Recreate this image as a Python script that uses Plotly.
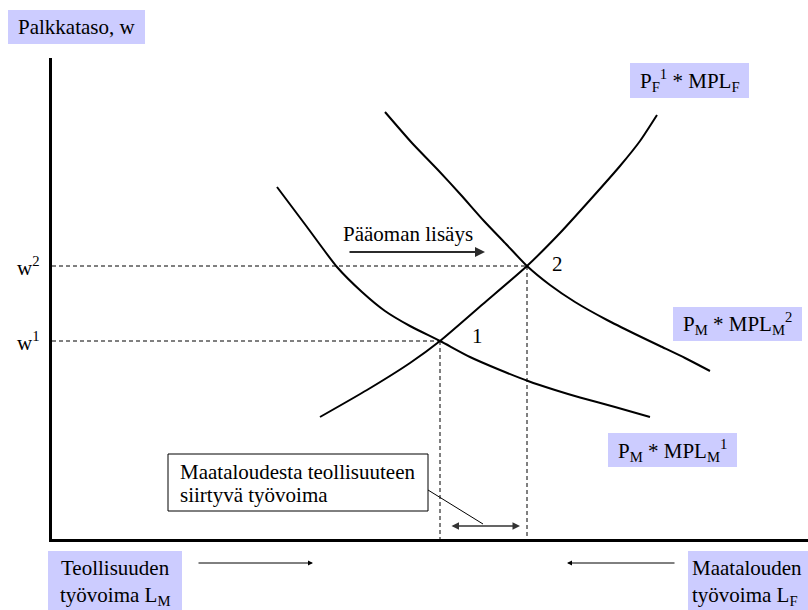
import plotly.graph_objects as go

# ---- data (labour on x, wage on y; arbitrary units) ----
mpl_m1_L = [225, 255, 285, 310, 333, 358, 388, 418, 448, 476, 503, 528, 563, 598]
mpl_m1_w = [352, 312, 272, 247, 228, 213, 198, 182, 169, 158, 149, 141.5, 132, 122]

mpl_f_L = [268, 315, 358, 388, 431, 475, 508, 538, 568, 588, 605]
mpl_f_w = [122, 149, 176, 198, 235, 273, 306, 339, 373, 398, 424]

mpl_m2_L = [333, 360, 386, 409, 432, 454, 475, 498, 523, 555, 583, 608, 633, 658]
mpl_m2_w = [427, 396, 369, 344, 318, 295, 273, 254, 237, 219, 205, 193, 181, 168]

eq_L = [388, 475]      # equilibrium 1, 2
eq_w = [198, 273]
eq_names = ["1", "2"]
w_ticks = ["w<sup>1</sup>", "w<sup>2</sup>"]

FONT = "Liberation Serif, Times New Roman, Tinos, DejaVu Serif, serif"
FS = 21

fig = go.Figure()

# dashed guide lines
for L, w in zip(eq_L, eq_w):
    fig.add_trace(go.Scatter(x=[0, L], y=[w, w], mode="lines",
                             line=dict(color="black", width=1, dash="4px,3px"),
                             hoverinfo="skip"))
    fig.add_trace(go.Scatter(x=[L, L], y=[w, 0], mode="lines",
                             line=dict(color="black", width=1, dash="4px,3px"),
                             hoverinfo="skip"))

for xs, ys in [(mpl_m1_L, mpl_m1_w), (mpl_f_L, mpl_f_w), (mpl_m2_L, mpl_m2_w)]:
    fig.add_trace(go.Scatter(x=xs, y=ys, mode="lines",
                             line=dict(color="black", width=2, shape="spline", smoothing=0.6),
                             hoverinfo="skip"))

# helpers for decoration positions (pixel -> paper)
def PX(px):
    return (px - 52) / 756.0

def PY(py):
    return (539 - py) / 481.0

def label(text, px, py, xanchor="center", size=FS):
    fig.add_annotation(text=text, x=PX(px), y=PY(py), xref="paper", yref="paper",
                       showarrow=False, xanchor=xanchor, yanchor="middle",
                       font=dict(family=FONT, size=size, color="black"))

def box(x0, y0, x1, y1, fill="#CCCCFF", line=0):
    fig.add_shape(type="rect", xref="paper", yref="paper",
                  x0=PX(x0), x1=PX(x1), y0=PY(y1), y1=PY(y0),
                  fillcolor=fill, line=dict(width=line, color="black"), layer="below")

def arrow(tx, ty, hx, hy, width=1.5, color="#333333", side="end", size=1.0):
    fig.add_annotation(x=PX(hx), y=PY(hy), xref="paper", yref="paper",
                       ax=tx - hx, ay=ty - hy, axref="pixel", ayref="pixel",
                       text="", showarrow=True, arrowhead=2, arrowsize=size,
                       arrowwidth=width, arrowcolor=color, arrowside=side)

# label boxes
box(8, 10, 145, 44)
label("Palkkataso, w", 76, 27)

box(630, 63, 749, 98)
label("P<sub>F</sub><sup>1</sup> * MPL<sub>F</sub>", 690, 80)

box(673, 307, 802, 341)
label("P<sub>M</sub> * MPL<sub>M</sub><sup>2</sup>", 737, 324)

box(608, 433, 737, 467)
label("P<sub>M</sub> * MPL<sub>M</sub><sup>1</sup>", 672, 450)

box(48, 551, 182, 615)
label("Teollisuuden", 115, 568)
label("työvoima L<sub>M</sub>", 115, 596)

box(688, 551, 815, 615)
label("Maatalouden", 690, 568, xanchor="left")
label("työvoima L<sub>F</sub>", 690, 596, xanchor="left")

# w tick labels
for t, w in zip(w_ticks, eq_w):
    fig.add_annotation(text=t, x=PX(28), y=w, xref="paper", yref="y", showarrow=False,
                       xanchor="center", yanchor="middle",
                       font=dict(family=FONT, size=FS, color="black"))

# equilibrium numbers
for n, L, w in zip(eq_names, eq_L, eq_w):
    fig.add_annotation(text=n, x=L, y=w, xref="x", yref="y", showarrow=False,
                       xshift=37 if n == "1" else 30, yshift=5 if n == "1" else 2,
                       xanchor="center", yanchor="middle",
                       font=dict(family=FONT, size=FS, color="black"))

# capital increase
label("Pääoman lisäys", 408, 234)
arrow(348, 252, 485, 252, width=2, color="#2b2b2b")

# explanation box
box(168, 454, 428, 511, fill="white", line=1)
label("Maataloudesta teollisuuteen", 178, 472, xanchor="left")
label("siirtyvä työvoima", 178, 495, xanchor="left")
fig.add_shape(type="line", xref="paper", yref="paper",
              x0=PX(428), y0=PY(490), x1=PX(483), y1=PY(524),
              line=dict(color="black", width=1))
arrow(450, 526, 520, 526, width=1.5, side="end+start")

# bottom direction arrows
arrow(197, 563, 313, 563, width=1, color="black")
arrow(676, 563, 567, 563, width=1, color="black")

fig.update_layout(
    width=808, height=610,
    margin=dict(l=52, r=0, t=58, b=71),
    plot_bgcolor="white", paper_bgcolor="white",
    font=dict(family=FONT, size=FS, color="black"),
    showlegend=False,
    xaxis=dict(range=[0, 756], showgrid=False, zeroline=False, showticklabels=False,
               ticks="", showline=True, linecolor="black", linewidth=3, fixedrange=True),
    yaxis=dict(range=[0, 481], showgrid=False, zeroline=False, showticklabels=False,
               ticks="", showline=True, linecolor="black", linewidth=3, fixedrange=True),
    hovermode=False,
)

fig.write_html("out.html", config={"displayModeBar": False},
               post_script="document.body.style.margin='0px';")
